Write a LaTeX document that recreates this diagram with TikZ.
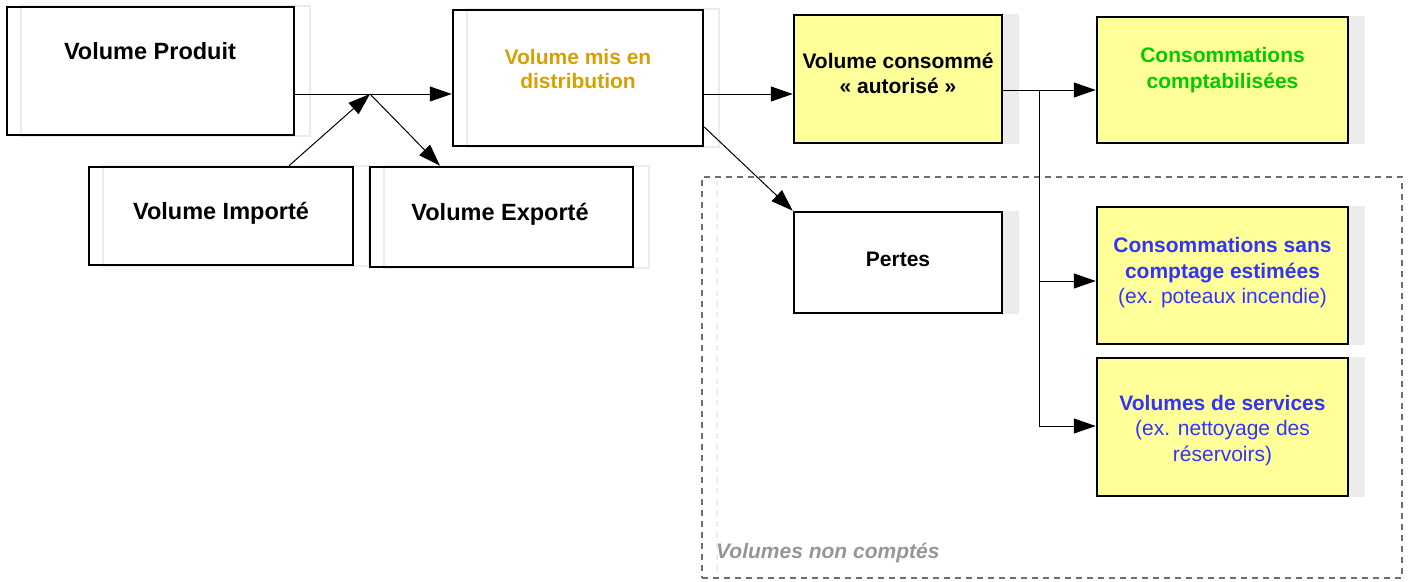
\documentclass[tikz,border=0pt]{standalone}
\usepackage{fontspec}
\setmainfont{Liberation Sans}
\usetikzlibrary{arrows.meta,calc,backgrounds}
\definecolor{boxyellow}{RGB}{255,255,153}
\definecolor{mustard}{RGB}{214,160,0}
\definecolor{greentxt}{RGB}{0,204,0}
\definecolor{bluetxt}{RGB}{51,51,255}
\definecolor{ghostgray}{RGB}{236,236,236}
\definecolor{zonegray}{RGB}{110,110,110}
\definecolor{labelgray}{RGB}{150,150,150}
\begin{document}
\begin{tikzpicture}[x=1pt,y=-1pt,
  box/.style={draw=black, line width=2.5pt, inner sep=0pt, rectangle},
  ybox/.style={box, fill=boxyellow},
  wbox/.style={box, fill=white},
  txt/.style={font=\fontsize{21}{25.5}\selectfont, align=center, inner sep=0pt},
  bigtxt/.style={font=\fontsize{23.5}{27}\selectfont\bfseries, align=center, inner sep=0pt},
  conn/.style={line width=1pt, -{Triangle[length=22pt,width=15pt]}},
  plain/.style={line width=1pt},
  ghostline/.style={draw=ghostgray, line width=2pt},
  zone/.style={draw=zonegray, line width=1.5pt, dash pattern=on 6pt off 5pt, inner sep=0pt, rectangle},
]
\useasboundingbox (0,0) rectangle (1410,581);

% dashed zone
\draw[draw=ghostgray, line width=1.5pt, dash pattern=on 6pt off 5pt] (717,180) -- (717,576);
\node[zone, minimum width=700, minimum height=401] (zone) at (1052,377.5) {};
\node[anchor=west, inner sep=0pt, font=\fontsize{21}{25}\selectfont\bfseries\itshape, text=labelgray] (zlabel) at (716,553) {Volumes non comptés};

% boxes
\node[box, minimum width=287, minimum height=128] (prod) at (150.5,71) {};
\node[box, minimum width=264, minimum height=98] (imp) at (221,216) {};
\node[box, minimum width=263, minimum height=100] (exp) at (501.5,217) {};
\node[box, minimum width=250, minimum height=136] (mis) at (578,78) {};
\node[ybox, minimum width=208, minimum height=128] (cons) at (898,79) {};
\node[wbox, minimum width=208, minimum height=101] (pertes) at (898,262.5) {};
\node[ybox, minimum width=251, minimum height=126] (compt) at (1222.5,80) {};
\node[ybox, minimum width=251, minimum height=137] (sans) at (1222.5,275.5) {};
\node[ybox, minimum width=251, minimum height=138] (serv) at (1222.5,427) {};

% ghosts
\begin{scope}[on background layer]
\draw[ghostline] ($(prod.north west)+(15,0)$) rectangle ($(prod.south east)+(15,0)$);
\draw[ghostline] ($(imp.north west)+(15,0)$) rectangle ($(imp.south east)+(15,0)$);
\draw[ghostline] ($(exp.north west)+(15,0)$) rectangle ($(exp.south east)+(15,0)$);
\draw[ghostline] ($(mis.north west)+(15,0)$) rectangle ($(mis.south east)+(15,0)$);
\fill[ghostgray] ($(cons.north west)+(16,0)$) rectangle ($(cons.south east)+(16,0)$);
\fill[ghostgray] ($(pertes.north west)+(16,0)$) rectangle ($(pertes.south east)+(16,0)$);
\fill[ghostgray] ($(compt.north west)+(16,0)$) rectangle ($(compt.south east)+(16,0)$);
\fill[ghostgray] ($(sans.north west)+(16,0)$) rectangle ($(sans.south east)+(16,0)$);
\fill[ghostgray] ($(serv.north west)+(16,0)$) rectangle ($(serv.south east)+(16,0)$);
\end{scope}

% texts
\node[bigtxt] (prodT) at (150,51) {Volume Produit};
\node[bigtxt] (impT) at (221,213) {Volume Importé};
\node[bigtxt] (expT) at (500,214) {Volume Exporté};
\node[txt, font=\fontsize{21}{24.5}\selectfont\bfseries, text=mustard] (misT) at (578,69) {Volume mis en\\distribution};
\node[txt, font=\fontsize{21}{25}\selectfont\bfseries] (consT) at (898,73) {Volume consommé\\« autorisé »};
\node[txt, font=\fontsize{21}{25.5}\selectfont\bfseries, text=greentxt] (comptT) at (1222.5,70) {Consommations\\comptabilisées};
\node[txt, font=\fontsize{21}{25}\selectfont\bfseries] (pertesT) at (898,259) {Pertes};
\node[txt, text=bluetxt] (sansT) at (1222.5,273) {\textbf{Consommations sans}\\\textbf{comptage estimées}\\(ex. poteaux incendie)};
\node[txt, text=bluetxt] (servT) at (1222.5,430.5) {\textbf{Volumes de services}\\(ex. nettoyage des\\réservoirs)};

% connectors
\coordinate (J) at (370,94);
\draw[conn] (prod.east |- J) -- (mis.west |- J);
\draw[conn] ([xshift=68pt]imp.north) -- (J);
\draw[conn] (J) -- ([xshift=-61.5pt]exp.north);
\draw[conn] (mis.east |- J) -- (cons.west |- J);
\draw[conn] ([yshift=-49pt]mis.east) -- (pertes.north west);
\coordinate (K) at (1039,90);
\coordinate (K2) at (1039,281);
\coordinate (K3) at (1039,426);
\draw[conn] (cons.east |- K) -- (compt.west |- K);
\draw[plain] (K) -- (K3);
\draw[conn] (K2) -- (sans.west |- K2);
\draw[conn] (K3) -- (serv.west |- K3);
\end{tikzpicture}
\end{document}
